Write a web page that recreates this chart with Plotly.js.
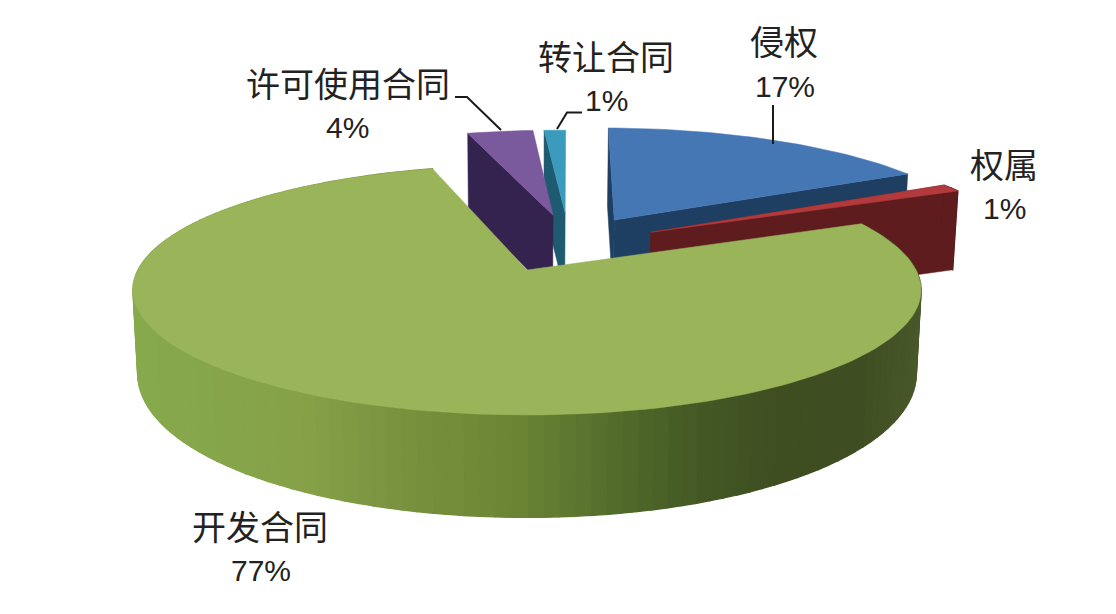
<!DOCTYPE html>
<html><head><meta charset="utf-8">
<script src="https://cdn.plot.ly/plotly-3.0.1.min.js"></script>
<style>html,body{margin:0;padding:0;background:#fff}#c{width:1116px;height:614px}</style>
</head><body><div id="c"></div>
<script>
// ---- data ----
const categories = ['侵权','权属','开发合同','许可使用合同','转让合同'];
const shares = [17.0, 1.1, 77.1, 3.6, 1.2];
const percentLabels = ['17%','1%','77%','4%','1%'];

// ---- styling / view ----
const topColors  = ['#4677b5','#b23a3c','#9ab45a','#7a5a9c','#3b9bbd'];
const wallColors = ['#1f3f62','#5e1c1e','#6f8a38','#35234f','#1e5a70'];
const pull = [[.24,.439],[.335,.326],[0,0],[.072,.485],[.106,.506]];
const radius = [.995,.985,1,.92,.9];
const firstAngle = 1;
const cx=527, cy=270, rx=389, ry=121.8, persp=.16, depth=80, tiltFront=.28, tiltBack=.02;
const greenStops=[[130,[134,170,76]],[300,[134,161,72]],[400,[120,146,62]],[520,[106,132,52]],[620,[82,106,43]],[700,[67,88,36]],[780,[62,78,33]],[860,[62,78,34]],[920,[72,88,42]]];
const labelPos=[[784,40,785,86],[1004,163,1004,208],[260,525,261,570],[348,82,347,127],[606,55,606,100]];
const leaders=[[[773,773],[105,144]],null,null,[[455,467,501],[97,97,130]],[[582,567,557],[112.5,112.5,129]]];

function project(u,v,z){
  const w=1+persp*v, d=depth*(1-(v<0?tiltFront:tiltBack)*v)*z;
  const x=cx+rx*u/w;
  return [cx+(x-cx)*(1-.012*z), cy-ry*v/w+d];
}
const rad=a=>a*Math.PI/180;
function pt(i,a,r,z){const p=pull[i];return project(p[0]+r*Math.sin(rad(a)),p[1]+r*Math.cos(rad(a)),z);}
function poly(pts,color,name,lw){
  const xs=pts.map(p=>p[0]),ys=pts.map(p=>p[1]);
  xs.push(xs[0]);ys.push(ys[0]);
  return {type:'scatter',mode:'lines',x:xs,y:ys,fill:'toself',fillcolor:color,
    line:{color:color,width:lw===undefined?1.3:lw},showlegend:false,name:name||'',
    hoverinfo:name?'name':'skip'};
}
function greenAt(x){
  const s=greenStops;
  if(x<=s[0][0])return `rgb(${s[0][1]})`;
  for(let i=1;i<s.length;i++) if(x<=s[i][0]){
    const t=(x-s[i-1][0])/(s[i][0]-s[i-1][0]);
    return 'rgb('+s[i][1].map((c,k)=>Math.round(s[i-1][1][k]+(c-s[i-1][1][k])*t)).join(',')+')';
  }
  return `rgb(${s[s.length-1][1]})`;
}
// angular spans derived from the shares
const spans=[];let acc=firstAngle;
shares.forEach(s=>{spans.push([acc,acc+s*3.6]);acc+=s*3.6;});

function topFace(i){
  const [a,b]=spans[i],pts=[pt(i,a,0,0)];
  const n=Math.max(4,Math.ceil((b-a)/1.5));
  for(let k=0;k<=n;k++)pts.push(pt(i,a+(b-a)*k/n,radius[i],0));
  return poly(pts,topColors[i],categories[i]+' '+percentLabels[i],.5);
}
function radialWall(i,a){
  return poly([pt(i,a,0,0),pt(i,a,radius[i],0),pt(i,a,radius[i],1),pt(i,a,0,1)],wallColors[i],'',.5);
}
function outerWall(i,a,b,colorFn){
  const out=[];const n=Math.max(2,Math.ceil((b-a)/2));
  for(let k=0;k<n;k++){
    const a0=a+(b-a)*k/n,a1=a+(b-a)*(k+1)/n;
    const P=[pt(i,a0,radius[i],0),pt(i,a1,radius[i],0),pt(i,a1,radius[i],1),pt(i,a0,radius[i],1)];
    const c=colorFn?colorFn((P[0][0]+P[1][0])/2):wallColors[i];
    out.push(poly(P,c));
  }
  return out;
}
const traces=[];
// blue
traces.push(radialWall(0,spans[0][1]),radialWall(0,spans[0][0]),topFace(0));
// teal
traces.push(radialWall(4,spans[4][0]),topFace(4));
// purple
traces.push(radialWall(3,spans[3][0]),topFace(3));
// red
traces.push(...outerWall(1,spans[1][0],spans[1][1]));
traces.push(radialWall(1,spans[1][1]),radialWall(1,spans[1][0]),topFace(1));
// green
traces.push(...outerWall(2,spans[2][0],spans[2][1],greenAt));
traces.push(topFace(2));
// leader lines
leaders.forEach(l=>{ if(l) traces.push({type:'scatter',mode:'lines',x:l[0],y:l[1],
  line:{color:'#1a1a1a',width:2},showlegend:false,hoverinfo:'skip'}); });

const annotations=[];
categories.forEach((c,i)=>{
  const p=labelPos[i];
  annotations.push({x:p[0],y:p[1],text:c,showarrow:false,xanchor:'center',yanchor:'middle',
    font:{family:'"Noto Sans CJK SC"',size:34,color:'#222'}});
  annotations.push({x:p[2],y:p[3],text:percentLabels[i],showarrow:false,xanchor:'center',yanchor:'middle',
    font:{family:'"Liberation Sans","Noto Sans CJK SC"',size:30,color:'#222'}});
});
const axis={visible:false,fixedrange:true,showgrid:false,zeroline:false};
Plotly.newPlot('c',traces,{
  width:1116,height:614,margin:{l:0,r:0,t:0,b:0},paper_bgcolor:'#fff',plot_bgcolor:'#fff',
  xaxis:Object.assign({range:[0,1116]},axis),
  yaxis:Object.assign({range:[614,0]},axis),
  showlegend:false,annotations:annotations
},{displayModeBar:false,staticPlot:true});
</script></body></html>
